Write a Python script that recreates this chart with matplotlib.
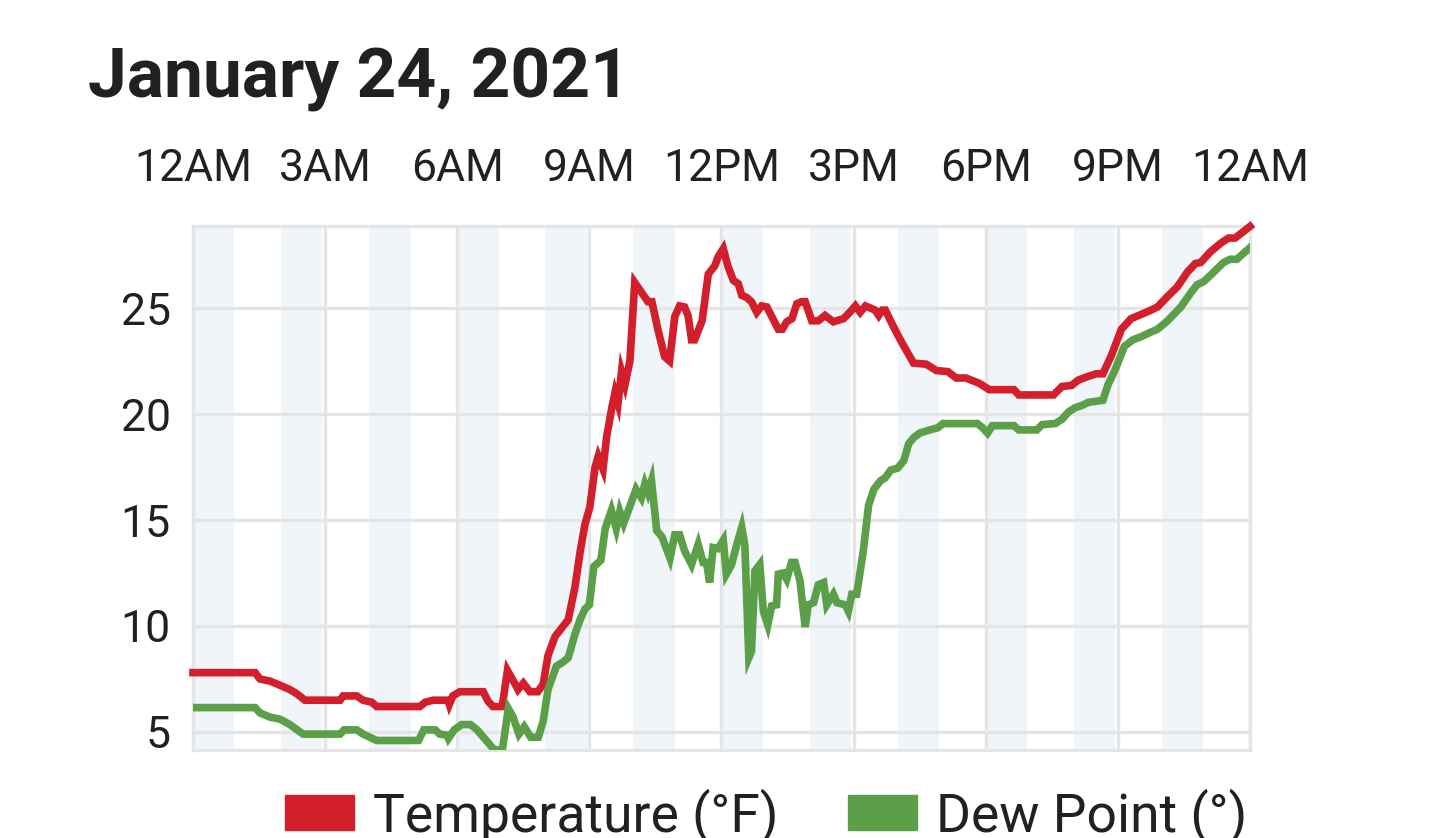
import matplotlib
matplotlib.use("Agg")
import matplotlib.pyplot as plt
from matplotlib.patches import Patch

# readings (hour of day, value)
temp_hours = [0.0, 1.41, 1.52, 1.75, 1.98, 2.2, 2.36, 2.54, 3.34, 3.41, 3.72, 3.86, 4.06, 4.17,
              5.15, 5.27, 5.45, 5.79, 5.82, 5.9, 6.06, 6.59, 6.7, 6.81, 7.02, 7.14, 7.25, 7.38,
              7.5, 7.65, 7.83, 7.95, 8.06, 8.22, 8.37, 8.52, 8.67, 8.79, 8.9, 9.01, 9.13, 9.2,
              9.31, 9.39, 9.51, 9.58, 9.65, 9.73, 9.81, 9.92, 10.03, 10.18, 10.33, 10.42, 10.56,
              10.71, 10.82, 10.94, 11.05, 11.16, 11.24, 11.32, 11.39, 11.56, 11.7, 11.85, 11.92,
              12.04, 12.15, 12.27, 12.38, 12.46, 12.57, 12.68, 12.8, 12.91, 13.03, 13.14, 13.29,
              13.38, 13.48, 13.6, 13.71, 13.82, 13.9, 14.05, 14.2, 14.35, 14.54, 14.77, 14.89,
              15.04, 15.15, 15.27, 15.38, 15.49, 15.57, 15.65, 15.72, 15.91, 16.06, 16.21, 16.36,
              16.65, 16.88, 17.14, 17.33, 17.55, 17.85, 18.08, 18.64, 18.75, 19.54, 19.73, 19.95,
              20.1, 20.29, 20.51, 20.66, 20.85, 21.08, 21.3, 21.53, 21.75, 21.9, 22.13, 22.35,
              22.58, 22.76, 22.88, 23.1, 23.33, 23.51, 23.66, 24.0]
temp_vals = [7.8, 7.8, 7.5, 7.4, 7.2, 7.0, 6.8, 6.5, 6.5, 6.7, 6.7, 6.5, 6.4, 6.2,
             6.2, 6.4, 6.5, 6.5, 6.3, 6.7, 6.9, 6.9, 6.45, 6.2, 6.2, 7.9, 7.5, 7.0,
             7.3, 6.9, 6.9, 7.25, 8.6, 9.5, 9.9, 10.3, 11.8, 13.5, 14.8, 15.6, 17.5, 18.0,
             17.4, 18.9, 20.3, 21.0, 20.5, 22.0, 21.4, 22.5, 26.2, 25.75, 25.3, 25.3, 23.95,
             22.7, 22.5, 24.6, 25.1, 25.05, 24.65, 23.5, 23.5, 24.4, 26.6, 27.0, 27.4,
             27.8, 26.95, 26.3, 26.15, 25.6, 25.5, 25.3, 24.8, 25.1, 25.05, 24.6, 24.0,
             24.0, 24.35, 24.5, 25.2, 25.3, 25.3, 24.4, 24.4, 24.65, 24.35, 24.5, 24.75,
             25.1, 24.8, 25.1, 25.0, 24.9, 24.65, 24.9, 24.9, 24.1, 23.5, 22.95, 22.4,
             22.35, 22.05, 22.0, 21.7, 21.7, 21.45, 21.15, 21.15, 20.9, 20.9, 21.3, 21.35,
             21.6, 21.75, 21.9, 21.9, 22.75, 24.0, 24.5, 24.7, 24.9, 25.05, 25.55, 26.0,
             26.7, 27.1, 27.15, 27.65, 28.05, 28.3, 28.3, 28.85]

dew_hours = [0.0, 1.41, 1.52, 1.75, 1.98, 2.2, 2.5, 3.34, 3.43, 3.72, 3.86, 4.17, 5.12, 5.24,
             5.5, 5.6, 5.77, 5.8, 5.93, 6.1, 6.3, 6.45, 6.7, 6.82, 7.02, 7.16, 7.27, 7.4, 7.52,
             7.67, 7.84, 7.95, 8.06, 8.25, 8.4, 8.52, 8.67, 8.79, 8.9, 9.0, 9.1, 9.26, 9.36,
             9.5, 9.61, 9.69, 9.78, 9.93, 10.06, 10.18, 10.26, 10.33, 10.41, 10.53, 10.65,
             10.83, 10.94, 11.05, 11.16, 11.32, 11.47, 11.58, 11.66, 11.73, 11.81, 11.92,
             12.04, 12.11, 12.23, 12.34, 12.46, 12.53, 12.62, 12.68, 12.76, 12.87, 12.95,
             13.05, 13.14, 13.25, 13.29, 13.4, 13.48, 13.59, 13.67, 13.78, 13.9, 13.97, 14.09,
             14.2, 14.32, 14.39, 14.54, 14.62, 14.81, 14.88, 14.96, 15.07, 15.22, 15.34, 15.46,
             15.61, 15.72, 15.84, 16.0, 16.14, 16.25, 16.37, 16.5, 16.73, 16.91, 17.03, 17.81,
             17.93, 18.04, 18.15, 18.64, 18.75, 19.16, 19.28, 19.58, 19.73, 19.88, 20.03,
             20.18, 20.33, 20.66, 20.78, 20.93, 21.15, 21.34, 21.53, 21.68, 21.9, 22.13,
             22.43, 22.65, 22.8, 22.95, 23.18, 23.4, 23.55, 23.7, 24.0]
dew_vals = [6.15, 6.15, 5.9, 5.7, 5.6, 5.35, 4.9, 4.9, 5.1, 5.1, 4.9, 4.6, 4.6, 5.1,
            5.1, 4.9, 4.85, 4.7, 5.1, 5.35, 5.35, 5.1, 4.5, 4.2, 4.1, 6.1, 5.7, 4.9, 5.25,
            4.75, 4.75, 5.5, 7.0, 8.1, 8.3, 8.5, 9.6, 10.3, 10.8, 11.0, 12.8, 13.1, 14.6,
            15.45, 14.6, 15.4, 14.85, 15.7, 16.45, 16.05, 16.7, 16.3, 16.85, 14.5, 14.2,
            13.2, 14.3, 14.3, 13.55, 12.9, 13.85, 13.0, 13.0, 12.05, 13.7, 13.65,
            14.05, 12.45, 12.9, 13.8, 14.65, 13.8, 8.5, 8.8, 12.6, 12.9, 10.7,
            10.05, 10.95, 11.0, 12.45, 12.5, 12.2, 13.0, 13.0, 12.15, 9.95, 11.0, 11.1,
            11.95, 12.05, 11.0, 11.5, 11.1, 11.0, 10.7, 11.5, 11.5, 13.55, 15.7, 16.45,
            16.85, 17.0, 17.35, 17.45, 17.8, 18.6, 18.9, 19.1, 19.25, 19.35, 19.55, 19.55,
            19.35, 19.1, 19.45, 19.45, 19.25, 19.25, 19.5, 19.55, 19.75, 20.1, 20.3,
            20.4, 20.55, 20.65, 21.4, 22.05, 23.2, 23.5, 23.65, 23.8, 24.0, 24.4,
            25.05, 25.7, 26.1, 26.25, 26.7, 27.15, 27.3, 27.3, 27.85]

tick_hours = [0, 3, 6, 9, 12, 15, 18, 21, 24]
tick_labels = ["12AM", "3AM", "6AM", "9AM", "12PM", "3PM", "6PM", "9PM", "12AM"]
y_ticks = [5, 10, 15, 20, 25]
band_starts = list(range(0, 24, 2))

RED = "#d21f2b"
GREEN = "#5b9f49"
GRID = "#e5e5e5"
TXT = "#212121"

plt.rcParams['font.family'] = ['Roboto', 'DejaVu Sans']

fig = plt.figure(figsize=(14.4, 8.38), dpi=100)
ax = fig.add_axes([193 / 1440, 88 / 838, 1057 / 1440, 524 / 838])

for h in band_starts:
    ax.axvspan(h, h + 0.94, color="#f0f5fa", lw=0, zorder=0)

ax.plot(temp_hours, temp_vals, color=RED, lw=5.5, solid_joinstyle="miter", zorder=3, clip_on=False)
ax.plot(dew_hours, dew_vals, color=GREEN, lw=5.5, solid_joinstyle="miter", zorder=3)

ax.set_xlim(0, 24)
ax.set_ylim(4.15, 28.87)
ax.set_xticks(tick_hours)
ax.set_xticklabels(tick_labels)
ax.set_yticks(y_ticks)
ax.xaxis.tick_top()
ax.tick_params(axis="x", length=0, pad=26, labelsize=32, colors=TXT)
ax.tick_params(axis="y", length=0, pad=16, labelsize=32, colors=TXT)
ax.grid(True, color=GRID, lw=2.4, zorder=1)
ax.set_axisbelow(True)
for s in ax.spines.values():
    s.set_color(GRID)
    s.set_linewidth(2.4)

fig.text(88 / 1440, (838 - 97) / 838, "January 24, 2021", fontsize=50, fontweight="bold",
         color=TXT, ha="left", va="baseline")

handles = [Patch(color=RED, label="Temperature (°F)"), Patch(color=GREEN, label="Dew Point (°)")]
fig.legend(handles=handles, loc="center", bbox_to_anchor=(766 / 1440, 22 / 838), ncol=2,
           frameon=False, fontsize=38.5, handlelength=1.3, handleheight=0.65,
           handletextpad=0.35, columnspacing=1.3, labelcolor=TXT)

fig.savefig("out.png", dpi=100)
